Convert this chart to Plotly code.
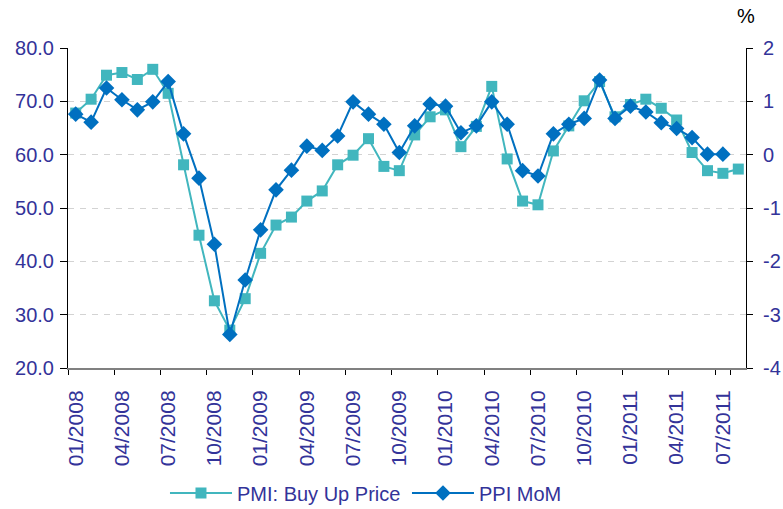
import plotly.graph_objects as go

months = [f"{m:02d}/{y}" for y in range(2008, 2012) for m in range(1, 13)][:44]

pmi_buy_price = [67.8, 70.4, 74.9, 75.4, 74.1, 76.0, 71.5, 58.1, 44.9, 32.6, 27.1, 33.0,
                 41.5, 46.8, 48.3, 51.3, 53.2, 58.1, 59.9, 63.0, 57.8, 57.0, 63.7, 67.1,
                 68.4, 61.5, 65.3, 72.8, 59.2, 51.3, 50.6, 60.7, 65.4, 70.1, 73.7, 67.1,
                 69.4, 70.4, 68.7, 66.5, 60.4, 57.0, 56.5, 57.3]

ppi_mom = [0.76, 0.61, 1.25, 1.03, 0.84, 0.99, 1.37, 0.39, -0.44, -1.68, -3.37, -2.35,
           -1.41, -0.66, -0.29, 0.16, 0.08, 0.35, 0.99, 0.76, 0.57, 0.04, 0.54, 0.95,
           0.91, 0.41, 0.54, 0.99, 0.57, -0.30, -0.40, 0.39, 0.57, 0.68, 1.40, 0.68,
           0.91, 0.80, 0.60, 0.49, 0.32, 0.01, 0.01]

left_ticks = [20, 30, 40, 50, 60, 70, 80]
right_ticks = [-4, -3, -2, -1, 0, 1, 2]
x_tick_labels = months[::3]

TEAL = "#41B6BE"
BLUE = "#0070C0"
LABEL = "#333399"
FONT = "Liberation Sans, Arial, sans-serif"

fig = go.Figure()
fig.add_trace(go.Scatter(
    x=months[:len(pmi_buy_price)], y=pmi_buy_price, name="PMI: Buy Up Price",
    mode="lines+markers", line=dict(color=TEAL, width=2),
    marker=dict(symbol="square", size=11, color=TEAL), yaxis="y"))
fig.add_trace(go.Scatter(
    x=months[:len(ppi_mom)], y=ppi_mom, name="PPI MoM",
    mode="lines+markers", line=dict(color=BLUE, width=2),
    marker=dict(symbol="diamond", size=12, color=BLUE), yaxis="y2"))

fig.update_layout(
    width=783, height=509,
    margin=dict(l=68, r=37, t=48, b=141, autoexpand=False),
    paper_bgcolor="white", plot_bgcolor="white",
    font=dict(family=FONT, size=20, color=LABEL),
    showlegend=True,
    legend=dict(orientation="h", xref="container", yref="container",
                x=0.2107, xanchor="left", y=0.0314, yanchor="middle",
                itemwidth=62, entrywidth=165, entrywidthmode="pixels",
                font=dict(family=FONT, size=20, color=LABEL),
                bgcolor="rgba(0,0,0,0)"),
    xaxis=dict(type="category", categoryorder="array", categoryarray=months,
               range=[-0.5, len(months) - 0.5], automargin=False,
               tickmode="array", tickvals=x_tick_labels, ticktext=x_tick_labels,
               tickangle=-90, tickson="boundaries", ticks="outside", ticklen=5,
               tickcolor="#000000", showline=True, linecolor="#808080", linewidth=2,
               showgrid=False, ticklabelstandoff=12,
               tickfont=dict(family=FONT, size=21, color=LABEL)),
    yaxis=dict(range=[20, 80], tickmode="array", tickvals=left_ticks, automargin=False,
               ticktext=[f"{v:.1f}" for v in left_ticks],
               ticks="outside", ticklen=7, tickcolor="#000000",
               showline=True, linecolor="#000000", linewidth=1,
               showgrid=True, gridcolor="#D3D3D3", griddash="6px,6px", gridwidth=1,
               zeroline=False, ticklabelstandoff=2,
               tickfont=dict(family=FONT, size=20, color=LABEL)),
    yaxis2=dict(range=[-4, 2], tickmode="array", tickvals=right_ticks, automargin=False,
                ticktext=[str(v) for v in right_ticks],
                overlaying="y", side="right",
                ticks="outside", ticklen=6, tickcolor="#000000",
                showline=True, linecolor="#000000", linewidth=1,
                showgrid=False, zeroline=False, ticklabelstandoff=6,
                tickfont=dict(family=FONT, size=20, color=LABEL)),
    annotations=[dict(text="%", xref="paper", yref="paper", x=1.0, y=1.0,
                      xanchor="center", yanchor="middle", yshift=32, showarrow=False,
                      font=dict(family=FONT, size=20, color="#000000"))],
)

fig.write_html("out.html", config={"displayModeBar": False},
               post_script="document.body.style.margin='0';document.body.style.overflow='hidden';")
